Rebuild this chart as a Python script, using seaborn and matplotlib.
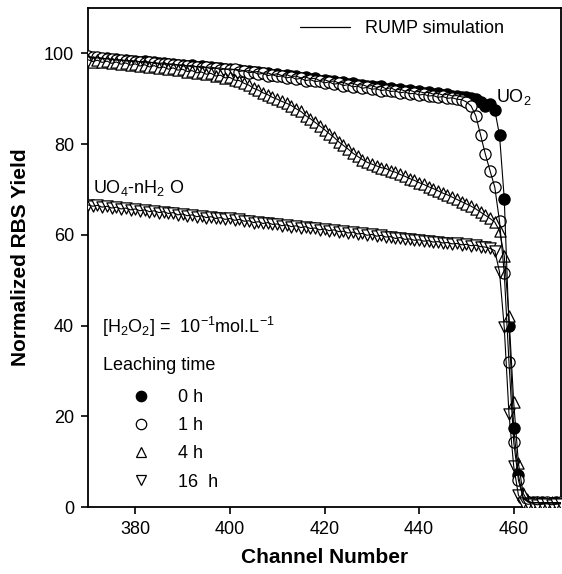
import numpy as np
import pandas as pd
import matplotlib
matplotlib.use("Agg")
import matplotlib.pyplot as plt
from matplotlib.lines import Line2D
import seaborn as sns

channels = list(range(370, 471))

yield_0h = [99.2, 99.0, 99.0, 98.8, 98.9, 98.6, 98.7, 98.4, 98.5, 98.3,
            98.4, 98.1, 98.3, 98.0, 98.0, 97.8, 97.9, 97.6, 97.7, 97.4,
            97.5, 97.2, 97.4, 97.0, 97.2, 96.9, 97.0, 96.7, 96.8, 96.5,
            96.6, 96.4, 96.4, 96.1, 96.2, 95.9, 96.0, 95.6, 95.7, 95.3,
            95.5, 95.1, 95.3, 94.9, 95.0, 94.6, 94.8, 94.4, 94.5, 94.0,
            94.2, 93.8, 93.9, 93.5, 93.6, 93.2, 93.4, 93.0, 93.1, 92.7,
            92.9, 92.5, 92.7, 92.2, 92.4, 91.9, 92.1, 91.7, 91.9, 91.5,
            91.6, 91.3, 91.4, 91.0, 91.2, 90.8, 91.0, 90.6, 90.7, 90.4,
            90.4, 90.1, 90.0, 89.3, 88.4, 88.8, 87.5, 82.0, 68.0, 40.0,
            17.5, 7.0, 2.0, 1.2, 1.0, 0.9, 1.0, 0.8, 0.9, 1.0, 0.8]

yield_1h = [99.4, 99.1, 99.2, 98.9, 98.8, 98.7, 98.5, 98.6, 98.3, 98.4,
            98.1, 98.2, 97.9, 98.1, 97.8, 97.7, 97.6, 97.7, 97.4, 97.5,
            97.2, 97.3, 97.0, 97.1, 96.8, 96.9, 96.6, 96.8, 96.4, 96.6,
            96.3, 96.5, 96.0, 96.2, 95.7, 95.9, 95.4, 95.6, 95.1, 95.3,
            94.9, 95.0, 94.6, 94.8, 94.3, 94.5, 94.0, 94.2, 93.8, 93.9,
            93.5, 93.7, 93.2, 93.4, 92.9, 93.1, 92.6, 92.8, 92.3, 92.5,
            92.1, 92.2, 91.8, 92.0, 91.6, 91.7, 91.3, 91.5, 91.1, 91.2,
            90.8, 91.0, 90.6, 90.7, 90.3, 90.5, 90.1, 90.2, 89.9, 89.8,
            89.3, 88.4, 86.2, 82.0, 77.8, 74.1, 70.5, 63.0, 51.6, 31.9,
            14.4, 5.9, 2.0, 1.1, 0.9, 1.0, 0.8, 1.0, 0.9, 0.8, 1.0]

yield_4h = [98.6, 98.2, 98.5, 98.0, 98.3, 97.8, 98.1, 97.6, 97.9, 97.4,
            97.7, 97.2, 97.5, 97.0, 97.3, 96.8, 97.0, 96.5, 96.8, 96.3,
            96.5, 96.0, 96.2, 95.7, 95.9, 95.4, 95.6, 95.0, 95.2, 94.6,
            94.7, 94.1, 94.0, 93.4, 93.0, 92.3, 91.9, 91.3, 90.9, 90.3,
            89.9, 89.4, 89.0, 88.5, 87.8, 87.2, 86.3, 85.6, 84.8, 84.0,
            83.2, 82.3, 81.5, 80.5, 79.7, 78.9, 78.0, 77.3, 76.6, 76.0,
            75.6, 75.2, 74.8, 74.6, 74.1, 73.8, 73.3, 72.9, 72.4, 72.0,
            71.5, 71.1, 70.6, 70.2, 69.7, 69.2, 68.8, 68.3, 67.8, 67.3,
            66.8, 66.3, 65.7, 65.0, 64.3, 63.6, 62.8, 60.9, 55.4, 42.0,
            23.1, 9.6, 3.0, 1.2, 0.9, 1.0, 0.8, 0.9, 1.0, 0.8, 0.9]

yield_16h = [66.6, 66.3, 66.5, 66.1, 66.3, 65.9, 66.1, 65.7, 65.9, 65.5,
             65.7, 65.3, 65.5, 65.1, 65.3, 64.9, 65.1, 64.7, 64.9, 64.4,
             64.6, 64.2, 64.4, 64.0, 64.2, 63.8, 64.0, 63.6, 63.8, 63.4,
             63.6, 63.2, 63.4, 63.0, 63.1, 62.7, 62.9, 62.5, 62.7, 62.3,
             62.4, 62.0, 62.2, 61.8, 62.0, 61.6, 61.8, 61.4, 61.5, 61.1,
             61.3, 60.9, 61.1, 60.7, 60.8, 60.4, 60.6, 60.2, 60.3, 59.9,
             60.1, 59.7, 59.9, 59.5, 59.6, 59.2, 59.4, 59.0, 59.1, 58.8,
             58.9, 58.6, 58.7, 58.4, 58.5, 58.2, 58.3, 58.0, 58.1, 57.8,
             57.9, 57.6, 57.7, 57.4, 57.3, 57.0, 56.5, 51.8, 39.6, 20.6,
             9.0, 2.6, 0.9, 0.6, 0.7, 0.5, 0.6, 0.7, 0.5, 0.6, 0.7]

series_labels = ["0 h", "1 h", "4 h", "16  h"]
series_markers = ["o", "o", "^", "v"]
series_faces = ["black", "white", "white", "white"]
x_ticks = [380, 400, 420, 440, 460]
y_ticks = [0, 20, 40, 60, 80, 100]

sns.set_theme(style="ticks")
plt.rcParams["font.family"] = ["Liberation Sans", "DejaVu Sans"]
plt.rcParams["mathtext.fontset"] = "custom"
plt.rcParams["mathtext.rm"] = "Liberation Sans"
plt.rcParams["mathtext.it"] = "Liberation Sans:italic"
plt.rcParams["mathtext.bf"] = "Liberation Sans:bold"
for k in ["text.color", "axes.labelcolor", "xtick.color", "ytick.color", "axes.edgecolor"]:
    plt.rcParams[k] = "black"

frames = []
for lab, vals in zip(series_labels, [yield_0h, yield_1h, yield_4h, yield_16h]):
    frames.append(pd.DataFrame({"channel": channels, "yield": vals, "time": lab}))
df = pd.concat(frames, ignore_index=True)

fig = plt.figure(figsize=(5.62, 5.74), dpi=100)
ax = fig.add_axes([88 / 562, 1 - 507 / 574, (561 - 88) / 562, (507 - 8) / 574])

for i, lab in enumerate(series_labels):
    sub = df[df["time"] == lab]
    sns.scatterplot(data=sub, x="channel", y="yield", ax=ax, marker=series_markers[i],
                    color=series_faces[i], edgecolor="black", linewidth=0.9,
                    s=65, zorder=2 + i, legend=False)
for i, lab in enumerate(series_labels):
    sub = df[df["time"] == lab]
    sns.lineplot(data=sub, x="channel", y="yield", ax=ax, color="black",
                 linewidth=0.8, zorder=10, legend=False, sort=True)

ax.set_xlim(370, 470)
ax.set_ylim(0, 110)
ax.set_xticks(x_ticks)
ax.set_yticks(y_ticks)
ax.tick_params(axis="both", direction="out", length=5, width=1.2, labelsize=13,
               colors="black", pad=5)
for sp in ax.spines.values():
    sp.set_visible(True)
    sp.set_linewidth(1.3)
    sp.set_color("black")
ax.set_xlabel("Channel Number", fontsize=15, fontweight="bold", labelpad=7)
ax.set_ylabel("Normalized RBS Yield", fontsize=15, fontweight="bold", labelpad=10)

ax.text(371, 70.3, r"UO$_4$-nH$_2$ O", fontsize=13, va="center", ha="left")
ax.text(456.2, 90.3, r"UO$_2$", fontsize=13, va="center", ha="left")
ax.text(373, 39.6, r"[H$_2$O$_2$] =  10$^{-1}$mol.L$^{-1}$", fontsize=13, va="center", ha="left")
ax.text(373.2, 31.2, "Leaching time", fontsize=13, va="center", ha="left")

# RUMP simulation legend
h_sim = [Line2D([0], [0], color="black", linewidth=0.9)]
leg1 = ax.legend(h_sim, ["RUMP simulation"], loc="upper left", frameon=False,
                 bbox_to_anchor=(300 / 562, 1 - 20 / 574), bbox_transform=fig.transFigure,
                 fontsize=13, handlelength=2.75, handletextpad=0.85, borderpad=0,
                 borderaxespad=0)
ax.add_artist(leg1)

handles = [Line2D([0], [0], linestyle="none", marker=m, markerfacecolor=f,
                  markeredgecolor="black", markersize=7.5, markeredgewidth=0.9)
           for m, f in zip(series_markers, series_faces)]
leg2 = ax.legend(handles, series_labels, loc="upper left", frameon=False,
                 bbox_to_anchor=(132 / 562, 1 - 389 / 574), bbox_transform=fig.transFigure,
                 fontsize=13, handlelength=1.0, handletextpad=1.55, labelspacing=0.62,
                 borderpad=0, borderaxespad=0)

fig.savefig("out.png", dpi=100)
